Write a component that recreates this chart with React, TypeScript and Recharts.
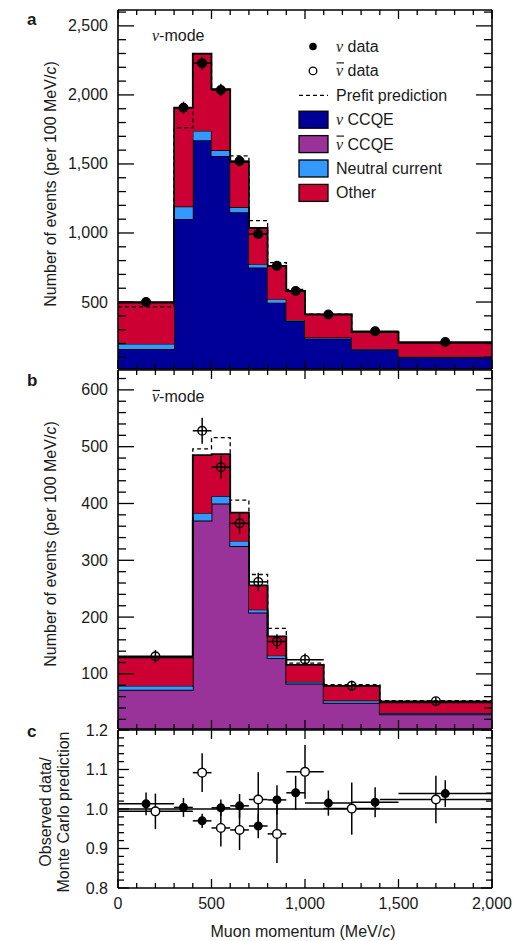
import React from "react";
import { Area, ComposedChart, ErrorBar, Line, ReferenceLine, Scatter, XAxis, YAxis } from "recharts";

const FONT = "'Liberation Sans', Arial, sans-serif";
const SERIF = "'Liberation Serif', 'DejaVu Serif', serif";

const NU_CCQE_COLOR = "#000099";
const NUBAR_CCQE_COLOR = "#993399";
const NC_COLOR = "#3399ff";
const OTHER_COLOR = "#cc0033";

// panel a: neutrino mode, bin edges in MeV/c
const EDGES_NU = [0, 300, 400, 500, 600, 700, 800, 900, 1000, 1250, 1500, 2000];
const NU_CCQE = [160, 1102, 1672, 1558, 1150, 750, 495, 362, 236, 156, 100];
const NU_NC = [37, 89, 68, 41, 36, 24, 25, 8, 7, 4, 3];
const NU_OTHER = [298, 716, 558, 442, 328, 262, 242, 210, 167, 122, 101];
const NU_PREFIT = [466, 1761, 2230, 2040, 1558, 1090, 786, 592, 412, 284, 206];
const NU_DATA_X = [150, 350, 450, 550, 650, 750, 850, 950, 1125, 1375, 1750];
const NU_DATA = [500, 1907, 2230, 2036, 1521, 993, 762, 580, 410, 289, 211];
const NU_DATA_ERR = [22, 44, 47, 45, 39, 32, 28, 24, 20, 17, 15];

// panel b: antineutrino mode
const EDGES_NUBAR = [0, 400, 500, 600, 700, 800, 900, 1100, 1400, 2000];
const NUBAR_CCQE = [72, 370, 400, 325, 208, 128, 83, 49, 29];
const NUBAR_NC = [7, 13, 13, 9, 5, 4, 3, 4, 2];
const NUBAR_OTHER = [50, 102, 74, 50, 43, 34, 30, 26, 19];
const NUBAR_PREFIT = [130, 496, 516, 406, 275, 180, 119, 81, 53];
const NUBAR_DATA_X = [200, 450, 550, 650, 750, 850, 1000, 1250, 1700];
const NUBAR_DATA = [131, 528, 464, 365, 262, 157, 125, 79, 52];
const NUBAR_DATA_ERR = [11, 23, 20, 19, 16, 13, 11, 9, 7];

// panel c: data / MC
const RATIO_NU = [1.013, 1.004, 0.97, 1.003, 1.008, 0.957, 1.023, 1.041, 1.015, 1.017, 1.039];
const RATIO_NU_ERR = [0.029, 0.024, 0.018, 0.021, 0.03, 0.031, 0.037, 0.043, 0.032, 0.038, 0.034];
const RATIO_NUBAR = [0.994, 1.092, 0.952, 0.947, 1.024, 0.937, 1.094, 1.001, 1.024];
const RATIO_NUBAR_ERR = [0.045, 0.049, 0.047, 0.051, 0.069, 0.074, 0.068, 0.066, 0.06];

const range = (a: number, b: number, step: number) => {
  const out: number[] = [];
  for (let v = a; v <= b + step / 1000; v += step) out.push(Math.round(v * 1000) / 1000);
  return out;
};

const X_TICKS = range(0, 2000, 100);
const Y_TICKS_NU = range(100, 2600, 100);
const Y_TICKS_NUBAR = range(20, 620, 20);
const Y_TICKS_RATIO = range(0.8, 1.2, 0.02);

function histRows(edges: number[], series: Record<string, number[]>) {
  return edges.map((x, i) => {
    const k = Math.min(i, edges.length - 2);
    const row: Record<string, number> = { x };
    for (const key of Object.keys(series)) row[key] = series[key][k];
    return row;
  });
}

function pointRows(xs: number[], ys: number[], errs: number[], edges: number[]) {
  return xs.map((x, i) => ({ x, y: ys[i], ey: errs[i], ex: [x - edges[i], edges[i + 1] - x] }));
}

const nuRows = histRows(EDGES_NU, { ccqe: NU_CCQE, nc: NU_NC, other: NU_OTHER, prefit: NU_PREFIT });
const nubarRows = histRows(EDGES_NUBAR, { ccqe: NUBAR_CCQE, nc: NUBAR_NC, other: NUBAR_OTHER, prefit: NUBAR_PREFIT });
const nuPoints = pointRows(NU_DATA_X, NU_DATA, NU_DATA_ERR, EDGES_NU);
const nubarPoints = pointRows(NUBAR_DATA_X, NUBAR_DATA, NUBAR_DATA_ERR, EDGES_NUBAR);
const ratioNu = pointRows(NU_DATA_X, RATIO_NU, RATIO_NU_ERR, EDGES_NU);
const ratioNubar = pointRows(NUBAR_DATA_X, RATIO_NUBAR, RATIO_NUBAR_ERR, EDGES_NUBAR);

type Side = "bottom" | "top" | "left" | "right";

function makeTick(side: Side, isMajor: (v: number) => boolean, majorLen: number, minorLen: number, label?: (v: number) => string) {
  return (p: any) => {
    const { x, y, payload } = p;
    const v = payload.value;
    const major = isMajor(v);
    const len = major ? majorLen : minorLen;
    const x2 = side === "left" ? x + len : side === "right" ? x - len : x;
    const y2 = side === "bottom" ? y - len : side === "top" ? y + len : y;
    return (
      <g>
        <line x1={x} y1={y} x2={x2} y2={y2} stroke="#000" strokeWidth={1.3} />
        {label && major && side === "left" && (
          <text x={x - 10} y={y + 5.5} textAnchor="end" fontSize={16} fontFamily={FONT} fill="#1a1a1a">
            {label(v)}
          </text>
        )}
        {label && major && side === "bottom" && (
          <text x={x} y={y + 21} textAnchor="middle" fontSize={16} fontFamily={FONT} fill="#1a1a1a">
            {label(v)}
          </text>
        )}
      </g>
    );
  };
}

const fmtInt = (v: number) => v.toLocaleString("en-US");
const fmtRatio = (v: number) => v.toFixed(1);
const xMajor = (v: number) => v % 500 === 0;
const axisLine = { stroke: "#000", strokeWidth: 1.6 };

// axes are 1px thick so they still render; margins compensate
function frameAxes(
  yTicks: number[],
  yDomain: [number, number],
  yMajor: (v: number) => boolean,
  yLabel: (v: number) => string,
  yMajorLen: number,
  yMinorLen: number,
  xLabels: boolean
) {
  const common = { tickSize: 0, tickMargin: 0, tickLine: false, interval: 0 as const, axisLine, allowDataOverflow: true };
  return [
    <XAxis key="xb" dataKey="x" type="number" domain={[0, 2000]} ticks={X_TICKS} height={1} {...common}
      tick={makeTick("bottom", xMajor, 9, 5, xLabels ? fmtInt : undefined)} />,
    <XAxis key="xt" xAxisId="top" orientation="top" dataKey="x" type="number" domain={[0, 2000]} ticks={X_TICKS} height={1} {...common}
      tick={makeTick("top", xMajor, 9, 5)} />,
    <YAxis key="yl" type="number" domain={yDomain} ticks={yTicks} width={1} {...common}
      tick={makeTick("left", yMajor, yMajorLen, yMinorLen, yLabel)} />,
    <YAxis key="yr" yAxisId="right" orientation="right" type="number" domain={yDomain} ticks={yTicks} width={1} {...common}
      tick={makeTick("right", yMajor, yMajorLen, yMinorLen)} />,
  ];
}

const dot = (r: number, fill: string) => (p: any) => (
  <circle cx={p.cx} cy={p.cy} r={r} fill={fill} stroke="#000" strokeWidth={1.4} />
);

const MARGIN = { top: 9, right: 27, bottom: 0, left: 117 };

function HistPanel({ rows, points, ccqeColor, yTicks, yDomain, majorStep, openFill, filled }: any) {
  return (
    <ComposedChart width={520} height={370} data={rows} margin={MARGIN}>
      {frameAxes(yTicks, yDomain, (v) => v % majorStep === 0, fmtInt, 16, 8, false)}
      <Area type="stepAfter" dataKey="ccqe" stackId="s" fill={ccqeColor} fillOpacity={1} stroke="#000" strokeWidth={1.8} isAnimationActive={false} />
      <Area type="stepAfter" dataKey="nc" stackId="s" fill={NC_COLOR} fillOpacity={1} stroke="#000" strokeWidth={1.2} isAnimationActive={false} />
      <Area type="stepAfter" dataKey="other" stackId="s" fill={OTHER_COLOR} fillOpacity={1} stroke="#000" strokeWidth={1.8} isAnimationActive={false} />
      <Line type="stepAfter" dataKey="prefit" stroke="#000" strokeWidth={1.3} strokeDasharray="4 3" dot={false} isAnimationActive={false} />
      <Scatter data={points} dataKey="y" isAnimationActive={false} shape={filled ? dot(4.3, "#000") : dot(4.3, openFill)}>
        <ErrorBar dataKey="ex" direction="x" width={0} stroke="#000" strokeWidth={1.5} isAnimationActive={false} />
        <ErrorBar dataKey="ey" direction="y" width={0} stroke="#000" strokeWidth={1.5} isAnimationActive={false} />
      </Scatter>
    </ComposedChart>
  );
}

function RatioPanel() {
  const ratioMajor = (v: number) => Math.abs(v * 10 - Math.round(v * 10)) < 1e-6;
  return (
    <ComposedChart width={520} height={221} margin={{ ...MARGIN, bottom: 52 }}>
      {frameAxes(Y_TICKS_RATIO, [0.8, 1.2], ratioMajor, fmtRatio, 11, 6, true)}
      <ReferenceLine y={1} stroke="#000" strokeWidth={1.5} />
      <Scatter data={ratioNu} dataKey="y" isAnimationActive={false} shape={dot(3.8, "#000")}>
        <ErrorBar dataKey="ex" direction="x" width={0} stroke="#000" strokeWidth={1.5} isAnimationActive={false} />
        <ErrorBar dataKey="ey" direction="y" width={0} stroke="#000" strokeWidth={1.5} isAnimationActive={false} />
      </Scatter>
      <Scatter data={ratioNubar} dataKey="y" isAnimationActive={false} shape={dot(4.3, "#fff")}>
        <ErrorBar dataKey="ex" direction="x" width={0} stroke="#000" strokeWidth={1.5} isAnimationActive={false} />
        <ErrorBar dataKey="ey" direction="y" width={0} stroke="#000" strokeWidth={1.5} isAnimationActive={false} />
      </Scatter>
    </ComposedChart>
  );
}

const LEGEND = [
  { kind: "dot", nu: true, bar: false, label: " data" },
  { kind: "open", nu: true, bar: true, label: " data" },
  { kind: "dash", nu: false, bar: false, label: "Prefit prediction" },
  { kind: "box", color: NU_CCQE_COLOR, nu: true, bar: false, label: " CCQE" },
  { kind: "box", color: NUBAR_CCQE_COLOR, nu: true, bar: true, label: " CCQE" },
  { kind: "box", color: NC_COLOR, nu: false, bar: false, label: "Neutral current" },
  { kind: "box", color: OTHER_COLOR, nu: false, bar: false, label: "Other" },
];

function Overlay() {
  const txt = { fontFamily: FONT, fontSize: 16, fill: "#1a1a1a" };
  const perMev = (
    <>
      Number of events (per 100 MeV/<tspan fontStyle="italic">c</tspan>)
    </>
  );
  return (
    <svg width={520} height={941} style={{ position: "absolute", left: 0, top: 0, pointerEvents: "none" }}>
      <text x={27} y={25} {...txt} fontSize={17} fontWeight="bold">a</text>
      <text x={27} y={386} {...txt} fontSize={17} fontWeight="bold">b</text>
      <text x={27} y={737} {...txt} fontSize={17} fontWeight="bold">c</text>

      <text transform="translate(56,184) rotate(-90)" textAnchor="middle" {...txt}>{perMev}</text>
      <text transform="translate(56,544) rotate(-90)" textAnchor="middle" {...txt}>{perMev}</text>
      <text transform="translate(51,812) rotate(-90)" textAnchor="middle" {...txt}>Observed data/</text>
      <text transform="translate(69,812) rotate(-90)" textAnchor="middle" {...txt}>Monte Carlo prediction</text>

      <text x={303} y={937} textAnchor="middle" {...txt}>
        Muon momentum (MeV/<tspan fontStyle="italic">c</tspan>)
      </text>

      <text x={152} y={41} {...txt}>
        <tspan fontFamily={SERIF} fontStyle="italic">ν</tspan>-mode
      </text>
      <text x={152} y={402} {...txt}>
        <tspan fontFamily={SERIF} fontStyle="italic">ν</tspan>-mode
      </text>
      <line x1={152.5} x2={160} y1={390.5} y2={390.5} stroke="#1a1a1a" strokeWidth={1.2} />

      {LEGEND.map((item, i) => {
        const cy = 46.5 + i * 24.4;
        return (
          <g key={i}>
            {item.kind === "dot" && <circle cx={313} cy={cy} r={3.8} fill="#000" />}
            {item.kind === "open" && <circle cx={313} cy={cy} r={3.8} fill="#fff" stroke="#000" strokeWidth={1.3} />}
            {item.kind === "dash" && <line x1={299} x2={328} y1={cy} y2={cy} stroke="#000" strokeWidth={1.3} strokeDasharray="4 3" />}
            {item.kind === "box" && (
              <rect x={299} y={cy - 8.5} width={29} height={17} fill={(item as any).color} stroke="#000" strokeWidth={1.3} />
            )}
            <text x={336} y={cy + 5.5} {...txt}>
              {item.nu && <tspan fontFamily={SERIF} fontStyle="italic">ν</tspan>}
              {item.label}
            </text>
            {item.bar && <line x1={336.5} x2={344} y1={cy - 8} y2={cy - 8} stroke="#1a1a1a" strokeWidth={1.2} />}
          </g>
        );
      })}
    </svg>
  );
}

export default function App() {
  return (
    <div style={{ position: "absolute", left: 0, top: 0, width: 520, height: 941, background: "#fff" }}>
      <div style={{ position: "absolute", left: 0, top: 0 }}>
        <HistPanel rows={nuRows} points={nuPoints} ccqeColor={NU_CCQE_COLOR} yTicks={Y_TICKS_NU} yDomain={[15, 2615]} majorStep={500} filled />
      </div>
      <div style={{ position: "absolute", left: 0, top: 360 }}>
        <HistPanel rows={nubarRows} points={nubarPoints} ccqeColor={NUBAR_CCQE_COLOR} yTicks={Y_TICKS_NUBAR} yDomain={[3, 635]} majorStep={100} openFill="none" />
      </div>
      <div style={{ position: "absolute", left: 0, top: 720 }}>
        <RatioPanel />
      </div>
      <Overlay />
    </div>
  );
}
